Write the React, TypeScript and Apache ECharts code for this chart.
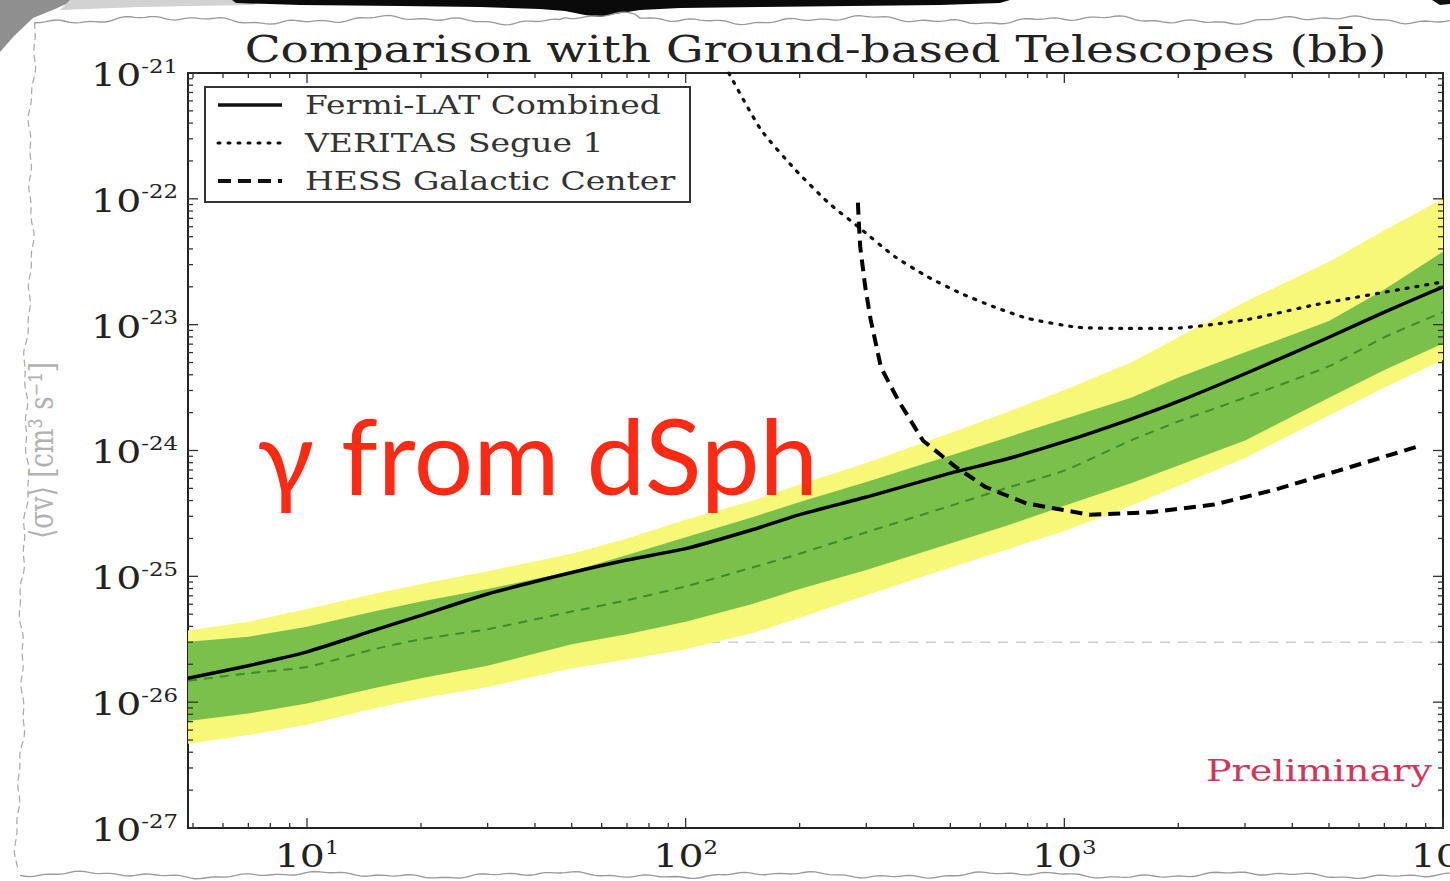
import React, { useEffect, useRef } from "react";
import * as echarts from "echarts";

// Dark matter mass grid (GeV) for the Fermi-LAT curves; the first entry is the plot's left edge
const masses = [4.85, 7, 10, 15, 20, 30, 50, 70, 100, 150, 200, 300, 500, 700, 1000, 1500, 2000, 3000, 5000, 7000, 10000];

// All cross-section values below are log10(<σv> / cm^3 s^-1)
const fermiCombined = [-25.81, -25.71, -25.6, -25.43, -25.31, -25.14, -24.97, -24.87, -24.78, -24.63, -24.51, -24.37, -24.18, -24.07, -23.93, -23.75, -23.61, -23.39, -23.1, -22.9, -22.7];
const expectedMedian = [-25.83, -25.77, -25.72, -25.58, -25.5, -25.42, -25.28, -25.19, -25.08, -24.93, -24.82, -24.65, -24.44, -24.3, -24.16, -23.92, -23.77, -23.58, -23.33, -23.1, -22.9];
const band68Upper = [-25.52, -25.48, -25.4, -25.28, -25.2, -25.1, -24.96, -24.83, -24.69, -24.53, -24.41, -24.25, -24.04, -23.9, -23.75, -23.58, -23.42, -23.22, -22.97, -22.72, -22.42];
const band68Lower = [-26.15, -26.09, -26.01, -25.89, -25.81, -25.71, -25.54, -25.46, -25.36, -25.22, -25.1, -24.95, -24.74, -24.6, -24.44, -24.26, -24.12, -23.92, -23.58, -23.36, -23.15];
const band95Upper = [-25.43, -25.36, -25.26, -25.14, -25.06, -24.96, -24.82, -24.7, -24.55, -24.4, -24.27, -24.1, -23.86, -23.7, -23.52, -23.3, -23.1, -22.82, -22.5, -22.25, -22.0];
const band95Lower = [-26.33, -26.26, -26.18, -26.05, -25.97, -25.88, -25.73, -25.66, -25.58, -25.45, -25.33, -25.15, -24.93, -24.79, -24.64, -24.44, -24.28, -24.06, -23.72, -23.5, -23.28];

const veritasMass = [130, 158, 195, 238, 285, 357, 436, 532, 654, 800, 1080, 1470, 1900, 3030, 4630, 10000];
const veritasSegue = [-21.0, -21.45, -21.77, -22.03, -22.22, -22.46, -22.62, -22.75, -22.86, -22.95, -23.02, -23.03, -23.03, -22.96, -22.84, -22.66];

const hessMass = [285, 287, 289, 298, 308, 322, 328, 364, 423, 516, 619, 794, 1164, 1694, 2483, 3614, 5297, 8550];
const hessGC = [-22.03, -22.22, -22.38, -22.7, -22.96, -23.23, -23.34, -23.6, -23.92, -24.13, -24.29, -24.42, -24.51, -24.49, -24.43, -24.31, -24.16, -23.97];

// Thermal relic cross-section reference level
const thermalRelic = 3e-26;

const xMin = masses[0];
const xMax = 10000;
const yMin = 1e-27;
const yMax = 1e-21;

const xMajorTicks = [10, 100, 1000, 10000];
const yMajorTicks = [1e-27, 1e-26, 1e-25, 1e-24, 1e-23, 1e-22, 1e-21];

const legendEntries = ["Fermi-LAT Combined", "VERITAS Segue 1", "HESS Galactic Center"];

const SERIF = "'DejaVu Serif', serif";
const STRETCH = 1.27; // the sheet's lettering is set wide

const pow10 = (e: number) => Math.pow(10, e);
const pairs = (xs: number[], es: number[]) => xs.map((m, i) => [m, pow10(es[i])]);

function minorTicks(decades: number[], lo: number, hi: number) {
  const out: number[] = [];
  decades.forEach((d) => {
    for (let k = 2; k <= 9; k++) {
      const v = k * d;
      if (v > lo && v < hi) out.push(v);
    }
  });
  return out;
}
const xMinorTicks = minorTicks([1, 10, 100, 1000], xMin, xMax);
const yMinorTicks = minorTicks([1e-27, 1e-26, 1e-25, 1e-24, 1e-23, 1e-22], yMin, yMax);

function powerText(value: number) {
  const e = Math.round(Math.log10(value));
  return `{b|10}{e|${e}}`;
}

const labelRich = {
  b: { fontFamily: SERIF, fontSize: 31, fill: "#222", lineHeight: 35 },
  e: { fontFamily: SERIF, fontSize: 18, fill: "#222", verticalAlign: "top", lineHeight: 18 },
};

function bandSeries(upper: number[], lower: number[], color: string, z: number) {
  return {
    type: "custom",
    silent: true,
    z,
    data: [[masses[0], pow10(lower[0])]],
    renderItem: (_params: any, api: any) => {
      const pts: number[][] = [];
      masses.forEach((m, i) => pts.push(api.coord([m, pow10(upper[i])])));
      for (let i = masses.length - 1; i >= 0; i--) pts.push(api.coord([masses[i], pow10(lower[i])]));
      return { type: "polygon", shape: { points: pts }, style: { fill: color, stroke: null } };
    },
  };
}

// Inward ticks on all four sides of the frame, placed through the axis scales
const tickSeries = {
  type: "custom",
  silent: true,
  z: 20,
  data: [[xMin, yMin]],
  renderItem: (_params: any, api: any) => {
    const children: any[] = [];
    const stroke = { stroke: "#333", lineWidth: 1.3 };
    const addX = (v: number, len: number) => {
      const b = api.coord([v, yMin]);
      const t = api.coord([v, yMax]);
      children.push({ type: "line", shape: { x1: b[0], y1: b[1], x2: b[0], y2: b[1] - len }, style: stroke });
      children.push({ type: "line", shape: { x1: t[0], y1: t[1], x2: t[0], y2: t[1] + len }, style: stroke });
    };
    const addY = (v: number, len: number) => {
      const l = api.coord([xMin, v]);
      const r = api.coord([xMax, v]);
      children.push({ type: "line", shape: { x1: l[0], y1: l[1], x2: l[0] + len, y2: l[1] }, style: stroke });
      children.push({ type: "line", shape: { x1: r[0], y1: r[1], x2: r[0] - len, y2: r[1] }, style: stroke });
    };
    xMajorTicks.forEach((v) => addX(v, 10));
    xMinorTicks.forEach((v) => addX(v, 5));
    yMajorTicks.forEach((v) => addY(v, 10));
    yMinorTicks.forEach((v) => addY(v, 5));
    return { type: "group", children };
  },
};

// Wavy torn-paper outline around the sheet
function wobble(t: number, a: number, b: number) {
  return a * Math.sin(t / 37 + b) + a * 0.6 * Math.sin(t / 13 + 2 * b) + a * 0.4 * Math.sin(t / 5.3 + b);
}
function edgeTop() {
  const pts: number[][] = [];
  for (let x = 35; x <= 1450; x += 5) pts.push([x, 20 + wobble(x, 2.5, 0.3) - (x > 560 && x < 640 ? 3 : 0)]);
  return pts;
}
function edgeLeft() {
  const pts: number[][] = [];
  for (let y = 22; y <= 872; y += 5) pts.push([34 - ((y - 22) / 850) * 16 + wobble(y, 2.2, 1.1), y]);
  return pts;
}
function edgeBottom() {
  const pts: number[][] = [];
  for (let x = 20; x <= 1450; x += 5) pts.push([x, 875 + wobble(x, 2, 2.4)]);
  return pts;
}

export default function App() {
  const ref = useRef<HTMLDivElement>(null);

  useEffect(() => {
    if (!ref.current) return;
    const chart = echarts.init(ref.current, undefined, { renderer: "svg" });

    const option: any = {
      animation: false,
      backgroundColor: "#ffffff",
      grid: { left: 188, top: 73, width: 1255, height: 755, show: true, borderColor: "#222", borderWidth: 2, backgroundColor: "transparent" },
      xAxis: {
        type: "log",
        logBase: 10,
        min: xMin,
        max: xMax,
        axisLine: { show: false },
        axisTick: { show: false },
        axisLabel: { show: false },
        splitLine: { show: false },
      },
      yAxis: {
        type: "log",
        logBase: 10,
        min: yMin,
        max: yMax,
        axisLine: { show: false },
        axisTick: { show: false },
        axisLabel: { show: false },
        splitLine: { show: false },
      },
      series: [
        {
          name: "thermal relic",
          type: "line",
          silent: true,
          z: 1,
          symbol: "none",
          data: [[xMin, thermalRelic], [xMax, thermalRelic]],
          lineStyle: { color: "#cfcfcf", width: 1.5, type: [10, 8] },
        },
        bandSeries(band95Upper, band95Lower, "#f8f878", 2),
        bandSeries(band68Upper, band68Lower, "#7cc04c", 3),
        {
          name: "expected",
          type: "line",
          silent: true,
          z: 4,
          symbol: "none",
          smooth: 0.2,
          data: pairs(masses, expectedMedian),
          lineStyle: { color: "#3f8a2c", width: 2, type: [9, 7] },
        },
        {
          name: legendEntries[0],
          type: "line",
          z: 6,
          symbol: "none",
          smooth: 0.2,
          data: pairs(masses, fermiCombined),
          lineStyle: { color: "#000", width: 3.5 },
        },
        {
          name: legendEntries[1],
          type: "line",
          z: 5,
          symbol: "none",
          smooth: 0.2,
          clip: true,
          data: pairs(veritasMass, veritasSegue),
          lineStyle: { color: "#111", width: 3.2, type: [2, 8], cap: "round" },
        },
        {
          name: legendEntries[2],
          type: "line",
          z: 5,
          symbol: "none",
          data: pairs(hessMass, hessGC),
          lineStyle: { color: "#000", width: 4, type: [12, 7] },
        },
        tickSeries,
      ],
    };

    chart.setOption(option);

    const px = (v: number) => chart.convertToPixel({ xAxisIndex: 0 }, v) as number;
    const py = (v: number) => chart.convertToPixel({ yAxisIndex: 0 }, v) as number;
    const bottom = py(yMin);
    const left = px(xMin);

    const xLabels = xMajorTicks.map((v) => ({
      type: "text",
      x: px(v),
      y: bottom + 11,
      scaleX: STRETCH,
      silent: true,
      style: { text: powerText(v), rich: labelRich, align: "center", verticalAlign: "top" },
    }));
    const yLabels = yMajorTicks.map((v) => ({
      type: "text",
      x: left - 10,
      y: py(v) + 2,
      scaleX: STRETCH,
      silent: true,
      style: { text: powerText(v), rich: labelRich, align: "right", verticalAlign: "middle" },
    }));

    // Legend box, sample lines and labels
    const legendX = 205;
    const legendY = 87;
    const rowY = [105, 143, 181];
    const samples = [
      { lineWidth: 3.5, lineDash: null as any, lineCap: "butt" },
      { lineWidth: 3, lineDash: [2, 8], lineCap: "round" },
      { lineWidth: 4, lineDash: [13, 7], lineCap: "butt" },
    ];
    const legend: any[] = [
      {
        type: "rect",
        z: 50,
        silent: true,
        shape: { x: legendX, y: legendY, width: 485, height: 115 },
        style: { fill: "#fff", stroke: "#333", lineWidth: 2 },
      },
    ];
    legendEntries.forEach((name, i) => {
      legend.push({
        type: "line",
        z: 51,
        silent: true,
        shape: { x1: 218, y1: rowY[i], x2: 282, y2: rowY[i] },
        style: { stroke: "#111", lineWidth: samples[i].lineWidth, lineDash: samples[i].lineDash, lineCap: samples[i].lineCap },
      });
      legend.push({
        type: "text",
        z: 51,
        silent: true,
        x: 305,
        y: rowY[i],
        scaleX: STRETCH,
        style: { text: name, fontFamily: SERIF, fontSize: 26, fill: "#333", align: "left", verticalAlign: "middle" },
      });
    });

    const decoration: any[] = [
      { type: "polygon", silent: true, shape: { points: [[0, 0], [75, 0], [55, 9], [33, 18], [14, 36], [0, 52]] }, style: { fill: "#8f8f8f" } },
      { type: "polygon", silent: true, shape: { points: [[70, 0], [290, 0], [250, 5], [140, 7], [60, 10]] }, style: { fill: "#d2d2d2" } },
      {
        type: "polygon",
        silent: true,
        shape: {
          points: [[232, 0], [236, 3], [300, 5], [400, 6], [480, 7], [540, 9], [565, 11], [585, 15], [600, 17], [615, 14], [640, 10], [680, 8], [760, 7], [850, 6], [940, 5], [1000, 3], [1010, 0]],
        },
        style: { fill: "#0a0a0a" },
      },
      { type: "polygon", silent: true, shape: { points: [[1432, 0], [1450, 0], [1450, 4], [1440, 5]] }, style: { fill: "#111" } },
      { type: "polyline", silent: true, shape: { points: edgeTop() }, style: { stroke: "#9a9a9a", lineWidth: 1.3, fill: null } },
      { type: "polyline", silent: true, shape: { points: edgeLeft() }, style: { stroke: "#a8a8a8", lineWidth: 1.2, fill: null, lineDash: [7, 4] } },
      { type: "polyline", silent: true, shape: { points: edgeBottom() }, style: { stroke: "#9a9a9a", lineWidth: 1.3, fill: null } },
    ];

    const texts: any[] = [
      {
        type: "text",
        z: 40,
        silent: true,
        x: (left + px(xMax)) / 2,
        y: 31,
        scaleX: STRETCH,
        style: {
          text: "Comparison with Ground-based Telescopes (bb\u0304)",
          fontFamily: SERIF,
          fontSize: 37,
          fill: "#222",
          align: "center",
          verticalAlign: "top",
        },
      },
      {
        type: "text",
        z: 40,
        silent: true,
        x: 41,
        y: (bottom + py(yMax)) / 2,
        rotation: Math.PI / 2,
        scaleY: STRETCH,
        style: {
          text: "\u27e8\u03c3v\u27e9 [cm\u00b3 s\u207b\u00b9]",
          fontFamily: SERIF,
          fontSize: 26,
          fill: "#b2b2b2",
          align: "center",
          verticalAlign: "middle",
        },
      },
      {
        type: "text",
        z: 100,
        silent: true,
        x: 1432,
        y: 771,
        scaleX: STRETCH,
        style: { text: "Preliminary", fontFamily: SERIF, fontSize: 30, fill: "#d0355a", align: "right", verticalAlign: "middle" },
      },
      {
        type: "text",
        z: 100,
        silent: true,
        x: 257,
        y: 401,
        style: { text: "\u03b3 from dSph", fontFamily: "Lato, 'Open Sans', sans-serif", fontSize: 105, fill: "#ff2a14", align: "left", verticalAlign: "top" },
      },
    ];

    chart.setOption({ graphic: [...decoration, ...xLabels, ...yLabels, ...legend, ...texts] });
    return () => chart.dispose();
  }, []);

  return (
    <div
      ref={ref}
      style={{ position: "fixed", left: 0, top: 0, width: 1450, height: 881, background: "#fff" }}
    />
  );
}
